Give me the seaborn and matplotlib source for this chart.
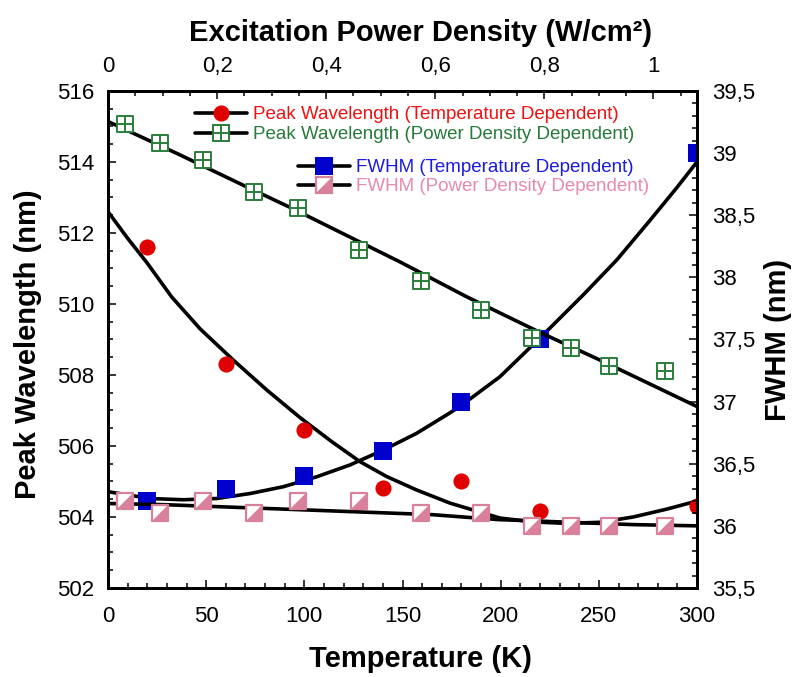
import numpy as np
import pandas as pd
import matplotlib
matplotlib.use('Agg')
import matplotlib.pyplot as plt
import matplotlib.ticker as mticker
from matplotlib.lines import Line2D
import seaborn as sns

# 温度依赖数据 (bottom axis, K)
temp_k = [20, 60, 100, 140, 180, 220, 300]
peak_temp = [511.6, 508.3, 506.45, 504.83, 505.0, 504.17, 504.3]
fwhm_temp = [36.2, 36.3, 36.4, 36.6, 37.0, 37.5, 39.0]

# 功率密度依赖数据 (top axis, W/cm2)
power = [0.032, 0.095, 0.175, 0.267, 0.348, 0.461, 0.573, 0.684, 0.777, 0.848, 0.919, 1.022]
peak_power = [515.07, 514.54, 514.06, 513.15, 512.7, 511.52, 510.65, 509.83, 509.03, 508.75, 508.25, 508.12]
fwhm_power = [36.2, 36.1, 36.2, 36.1, 36.2, 36.2, 36.1, 36.1, 36.0, 36.0, 36.0, 36.0]

# fitted curves
fit_t_peak = [0, 10, 20, 32.4, 46.9, 63.8, 80.8, 97.8, 114, 128.3, 141.9, 157.2, 174.2,
              182.7, 199.6, 216.6, 233.6, 250.6, 267.5, 284.5, 300]
fit_peak_t = [512.6, 511.85, 511.15, 510.2, 509.3, 508.42, 507.58, 506.8, 506.12, 505.56,
              505.14, 504.76, 504.39, 504.25, 503.97, 503.86, 503.82, 503.85, 504.0, 504.22, 504.45]
fit_t_fwhm = [0, 21.4, 38.4, 55.3, 72.3, 89.3, 106.3, 123.2, 140.2, 157.2, 174.2, 180,
              199.6, 220.5, 242.1, 259.1, 276.1, 289.6, 300]
fit_fwhm_t = [36.275, 36.22, 36.21, 36.22, 36.26, 36.315, 36.395, 36.49, 36.61, 36.745,
              36.91, 36.97, 37.2, 37.52, 37.86, 38.14, 38.46, 38.72, 38.93]
fit_p_peak = [0, 0.132, 0.254, 0.334, 0.536, 0.658, 0.792, 0.902, 1.08]
fit_peak_p = [515.14, 514.2, 513.3, 512.72, 511.18, 510.2, 509.2, 508.42, 507.11]
fit_p_fwhm = [0, 0.107, 0.229, 0.351, 0.473, 0.595, 0.655, 0.717, 0.78, 0.839, 0.9, 0.963, 1.08]
fit_fwhm_p = [36.18, 36.17, 36.15, 36.13, 36.11, 36.09, 36.07, 36.05, 36.04, 36.03, 36.02, 36.01, 36.0]

red = '#e00000'
green = '#2b7d3b'
blue = '#0000cc'
pink = '#d9809a'
tri = [(-1, -1), (1, -1), (1, 1)]

sns.set_style('ticks')
plt.rcParams['font.family'] = ['Liberation Sans', 'DejaVu Sans']
plt.rcParams['axes.linewidth'] = 1.8
plt.rcParams['text.color'] = 'black'
plt.rcParams['axes.labelcolor'] = 'black'
plt.rcParams['axes.edgecolor'] = 'black'

fig = plt.figure(figsize=(7.93, 6.77), dpi=100)
ax = fig.add_axes([0.1362, 0.1315, 0.7428, 0.7341])
ax_r = ax.twinx()
ax_p = ax.twiny()
ax_pr = ax_r.twiny()

lw = 2.6
# 温度 - 峰值波长
sns.lineplot(x=fit_t_peak, y=fit_peak_t, ax=ax, color='black', lw=lw)
sns.scatterplot(x=temp_k, y=peak_temp, ax=ax, marker='o', s=135, color=red, edgecolor=red,
                linewidth=0, zorder=3)
# 温度 - FWHM
sns.lineplot(x=fit_t_fwhm, y=fit_fwhm_t, ax=ax_r, color='black', lw=lw)
sns.scatterplot(x=temp_k, y=fwhm_temp, ax=ax_r, marker='s', s=165, color=blue, edgecolor=blue,
                linewidth=0, zorder=3)
# 功率 - 峰值波长
sns.lineplot(x=fit_p_peak, y=fit_peak_p, ax=ax_p, color='black', lw=lw)
sns.scatterplot(x=power, y=peak_power, ax=ax_p, marker='s', s=135, facecolor='white',
                edgecolor=green, linewidth=1.4, zorder=3)
sns.scatterplot(x=power, y=peak_power, ax=ax_p, marker='+', s=135, color=green,
                linewidth=1.4, zorder=4)
# 功率 - FWHM
sns.lineplot(x=fit_p_fwhm, y=fit_fwhm_p, ax=ax_pr, color='black', lw=lw)
sns.scatterplot(x=power, y=fwhm_power, ax=ax_pr, marker='s', s=135, facecolor='white',
                edgecolor=pink, linewidth=1.6, zorder=3)
sns.scatterplot(x=power, y=fwhm_power, ax=ax_pr, marker=tri, s=135, color=pink,
                edgecolor=pink, linewidth=0, zorder=4)

ax.set_xlim(0, 300)
ax.set_ylim(502, 516)
ax_r.set_ylim(35.5, 39.5)
ax_p.set_xlim(0, 1.08)
ax_pr.set_xlim(0, 1.08)

comma = mticker.FuncFormatter(lambda v, pos: f'{v:g}'.replace('.', ','))

ax.xaxis.set_major_locator(mticker.MultipleLocator(50))
ax.xaxis.set_minor_locator(mticker.MultipleLocator(10))
ax.yaxis.set_major_locator(mticker.MultipleLocator(2))
ax.yaxis.set_minor_locator(mticker.MultipleLocator(0.5))
ax_r.yaxis.set_major_locator(mticker.MultipleLocator(0.5))
ax_r.yaxis.set_minor_locator(mticker.MultipleLocator(0.1))
ax_r.yaxis.set_major_formatter(comma)
ax_p.xaxis.set_major_locator(mticker.MultipleLocator(0.2))
ax_p.xaxis.set_minor_locator(mticker.MultipleLocator(0.05))
ax_p.xaxis.set_major_formatter(comma)

tick_kw = dict(direction='in', labelsize=16, width=1.1, colors='black')
ax.tick_params(axis='x', which='major', length=6, pad=13, **tick_kw)
ax.tick_params(axis='x', which='minor', length=3.6, direction='in', width=1.1, colors='black')
ax.tick_params(axis='y', which='major', length=6, pad=10, **tick_kw)
ax.tick_params(axis='y', which='minor', length=3.6, direction='in', width=1.1, colors='black')
ax_r.tick_params(axis='y', which='major', length=6, pad=11, **tick_kw)
ax_r.tick_params(axis='y', which='minor', length=3.6, direction='in', width=1.1, colors='black')
ax_p.tick_params(axis='x', which='major', length=6, pad=10, **tick_kw)
ax_p.tick_params(axis='x', which='minor', length=3.6, direction='in', width=1.1, colors='black')
ax_pr.tick_params(axis='x', which='both', top=False, labeltop=False, bottom=False, labelbottom=False)

ax.set_xlabel('Temperature (K)', fontsize=21, fontweight='bold')
ax.xaxis.set_label_coords(0.53, -0.115)
ax.set_ylabel('Peak Wavelength (nm)', fontsize=21, fontweight='bold')
ax.yaxis.set_label_coords(-0.112, 0.49)
ax_r.set_ylabel('FWHM (nm)', fontsize=21, fontweight='bold')
ax_r.yaxis.set_label_coords(1.114, 0.5)
ax_p.set_xlabel('Excitation Power Density (W/cm²)', fontsize=21, fontweight='bold')
ax_p.xaxis.set_label_coords(0.53, 1.1)
ax_pr.set_xlabel('')
for a in (ax_r, ax_p, ax_pr):
    for s in a.spines.values():
        s.set_linewidth(1.8)
        s.set_color('black')

# 图例
h_red = Line2D([], [], color='black', lw=lw, marker='o', ms=11.6, mfc=red, mec=red, mew=0)
h_green = (Line2D([], [], color='black', lw=lw, marker='s', ms=11.6, mfc='white', mec=green, mew=1.4),
           Line2D([], [], ls='none', marker='+', ms=11.6, mec=green, mew=1.4))
h_blue = Line2D([], [], color='black', lw=lw, marker='s', ms=12.8, mfc=blue, mec=blue, mew=0)
h_pink = (Line2D([], [], color='black', lw=lw, marker='s', ms=11.6, mfc='white', mec=pink, mew=1.6),
          Line2D([], [], ls='none', marker=tri, ms=11.6, mfc=pink, mec=pink, mew=0))

leg_kw = dict(frameon=False, fontsize=13.5, handlelength=2.77, handletextpad=0.3,
              borderpad=0, borderaxespad=0, loc='upper left', bbox_transform=fig.transFigure)
leg1 = ax_pr.legend([h_red, h_green],
                    ['Peak Wavelength (Temperature Dependent)', 'Peak Wavelength (Power Density Dependent)'],
                    bbox_to_anchor=(195 / 793, 1 - 106 / 677), labelspacing=0.16,
                    labelcolor=['#ee1111', '#267a3a'], **leg_kw)
ax_pr.add_artist(leg1)
ax_pr.legend([h_blue, h_pink],
             ['FWHM (Temperature Dependent)', 'FWHM (Power Density Dependent)'],
             bbox_to_anchor=(298 / 793, 1 - 159 / 677), labelspacing=0.1,
             labelcolor=['#1a1ae0', '#e88aa8'], **leg_kw)

fig.savefig('out.png', dpi=100)
